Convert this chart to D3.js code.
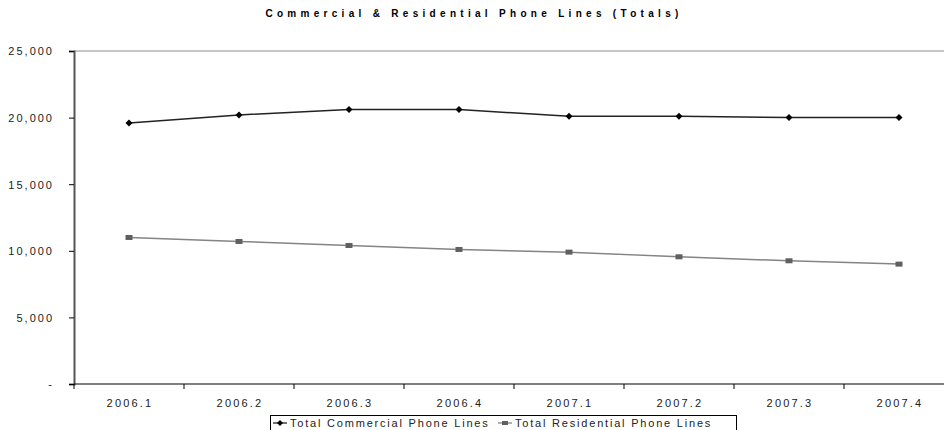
<!DOCTYPE html>
<html>
<head>
<meta charset="utf-8">
<script src="https://cdn.jsdelivr.net/npm/d3@7"></script>
<style>
  body { margin: 0; background: #fff; }
  text { font-family: "Liberation Sans", Arial, sans-serif; }
</style>
</head>
<body>
<script>
var quarters = ["2006.1", "2006.2", "2006.3", "2006.4", "2007.1", "2007.2", "2007.3", "2007.4"];
var commercial = [19600, 20200, 20600, 20600, 20100, 20100, 20000, 20000];
var residential = [11000, 10700, 10400, 10100, 9900, 9550, 9250, 9000];
var yTicks = [0, 5000, 10000, 15000, 20000, 25000];
var seriesNames = ["Total Commercial Phone Lines", "Total Residential Phone Lines"];

var width = 944, height = 430;
var plotLeft = 74, plotTop = 51, plotBottom = 384, plotRight = 954;

var svg = d3.select("body").append("svg").attr("width", width).attr("height", height);

var x = d3.scaleBand().domain(quarters).range([plotLeft, plotRight]).padding(0);
var y = d3.scaleLinear().domain([0, 25000]).range([plotBottom, plotTop]);
var cx = function(d, i) { return x(quarters[i]) + x.bandwidth() / 2; };

// title
svg.append("text")
  .attr("x", 474).attr("y", 17)
  .attr("text-anchor", "middle")
  .style("font-size", "10px")
  .style("font-weight", "bold")
  .style("letter-spacing", "4.3px")
  .text("Commercial & Residential Phone Lines (Totals)");

// top border of plot area
svg.append("line")
  .attr("x1", plotLeft).attr("x2", width)
  .attr("y1", y(25000)).attr("y2", y(25000))
  .attr("stroke", "#8c8c8c").attr("stroke-width", 1);

// y axis
var yAxis = d3.axisLeft(y).tickValues(yTicks).tickSize(5).tickPadding(15)
  .tickFormat(function(d) { return d == 0 ? "-" : d3.format(",")(d); });
var gy = svg.append("g").attr("transform", "translate(" + plotLeft + ",0)").call(yAxis);
gy.select(".domain").attr("stroke", "#555").attr("stroke-width", 2);
gy.selectAll(".tick line").attr("stroke", "#000");
gy.selectAll(".tick text")
  .style("font-size", "11px")
  .style("letter-spacing", "2px")
  .attr("fill", "#222")
  .attr("dy", "0.35em");

// x axis
svg.append("line")
  .attr("x1", plotLeft).attr("x2", width)
  .attr("y1", plotBottom).attr("y2", plotBottom)
  .attr("stroke", "#000").attr("stroke-width", 1.2);
var bounds = quarters.map(function(q) { return x(q); });
svg.selectAll(".xtick").data(bounds).enter().append("line")
  .attr("x1", function(d) { return d; }).attr("x2", function(d) { return d; })
  .attr("y1", plotBottom).attr("y2", plotBottom + 5)
  .attr("stroke", "#000");
svg.selectAll(".xlabel").data(quarters).enter().append("text")
  .attr("x", function(d) { return x(d) + x.bandwidth() / 2 + 1; })
  .attr("y", 407)
  .attr("text-anchor", "middle")
  .style("font-size", "11px")
  .style("letter-spacing", "2.2px")
  .attr("fill", "#222")
  .text(function(d) { return d; });

// lines
var line = d3.line().x(cx).y(function(d) { return y(d); });
svg.append("path").datum(residential)
  .attr("d", line).attr("fill", "none")
  .attr("stroke", "#848484").attr("stroke-width", 1.5);
svg.append("path").datum(commercial)
  .attr("d", line).attr("fill", "none")
  .attr("stroke", "#222").attr("stroke-width", 1.5);

svg.selectAll(".sq").data(residential).enter().append("rect")
  .attr("x", function(d, i) { return cx(d, i) - 3.5; })
  .attr("y", function(d) { return y(d) - 2.5; })
  .attr("width", 7).attr("height", 5)
  .attr("fill", "#606060");
svg.selectAll(".dm").data(commercial).enter().append("path")
  .attr("transform", function(d, i) { return "translate(" + cx(d, i) + "," + y(d) + ")"; })
  .attr("d", "M0,-3.5L3.5,0L0,3.5L-3.5,0Z")
  .attr("fill", "#000");

// legend
var lg = svg.append("g");
lg.append("rect")
  .attr("x", 270.5).attr("y", 415.5)
  .attr("width", 466).attr("height", 16)
  .attr("fill", "#fff").attr("stroke", "#000");
var legendItems = [
  { name: seriesNames[0], x: 273, color: "#222", marker: "diamond" },
  { name: seriesNames[1], x: 498, color: "#848484", marker: "square" }
];
legendItems.forEach(function(it) {
  lg.append("line")
    .attr("x1", it.x).attr("x2", it.x + 14)
    .attr("y1", 423).attr("y2", 423)
    .attr("stroke", it.color).attr("stroke-width", 1.3);
  if (it.marker == "diamond") {
    lg.append("path")
      .attr("transform", "translate(" + (it.x + 7) + ",423)")
      .attr("d", "M0,-3L3,0L0,3L-3,0Z").attr("fill", "#000");
  } else {
    lg.append("rect")
      .attr("x", it.x + 4).attr("y", 421).attr("width", 6).attr("height", 4)
      .attr("fill", "#606060");
  }
  lg.append("text")
    .attr("x", it.x + 17).attr("y", 427)
    .style("font-size", "11px")
    .style("letter-spacing", "1.8px")
    .attr("fill", "#222")
    .text(it.name);
});
</script>
</body>
</html>
